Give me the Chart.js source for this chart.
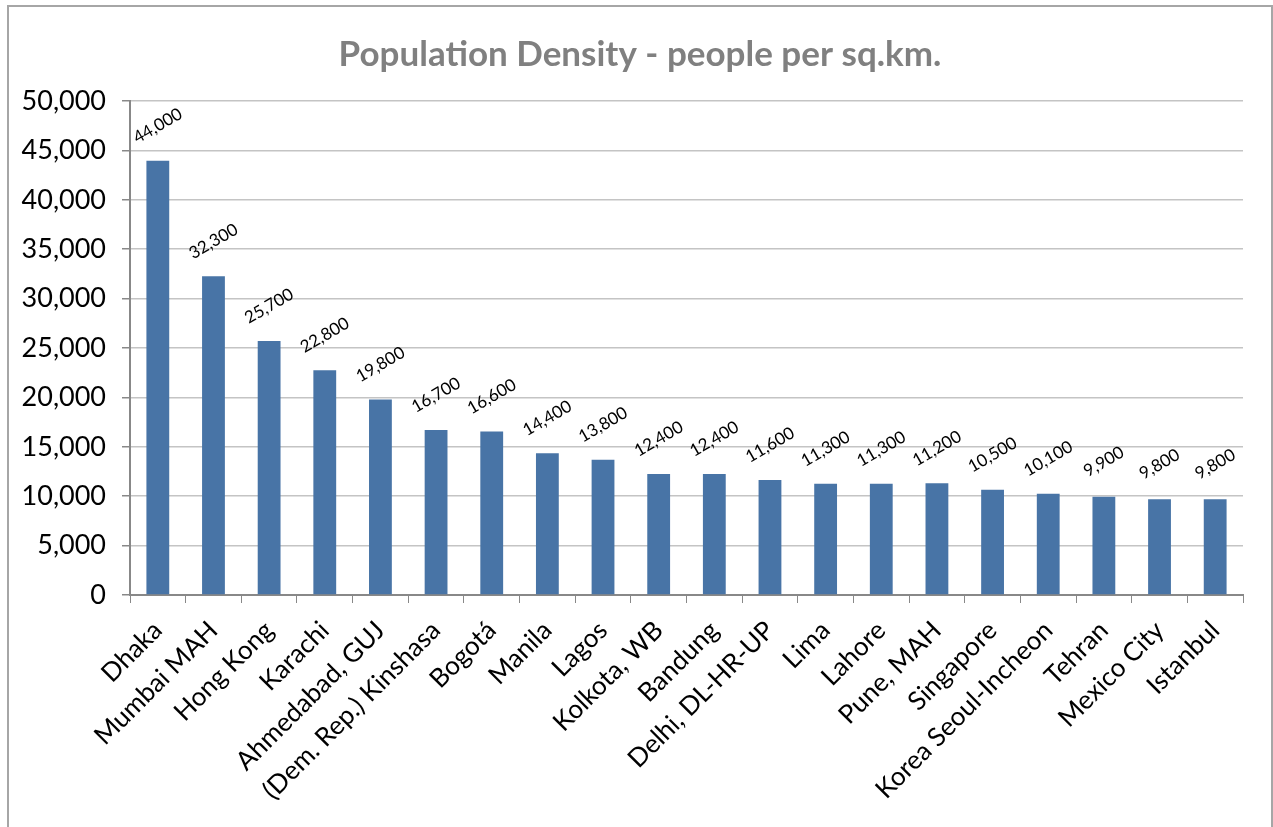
<!DOCTYPE html>
<html>
<head>
<meta charset="utf-8">
<script src="https://cdn.jsdelivr.net/npm/chart.js@4"></script>
<style>
  body { margin: 0; background: #fff; overflow: hidden; }
  #frame { position: absolute; left: 7px; top: 5px; width: 1262px; height: 900px; border: 2px solid #a6a6a6; }
  #chart { position: absolute; left: 0; top: 0; }
</style>
</head>
<body>
<div id="frame"></div>
<canvas id="chart" width="1273" height="827"></canvas>
<script>
// cities, sorted by density
var cities = [
  "Dhaka", "Mumbai MAH", "Hong Kong", "Karachi", "Ahmedabad, GUJ",
  "(Dem. Rep.) Kinshasa", "Bogotá", "Manila", "Lagos", "Kolkota, WB",
  "Bandung", "Delhi, DL-HR-UP", "Lima", "Lahore", "Pune, MAH",
  "Singapore", "Korea Seoul-Incheon", "Tehran", "Mexico City", "Istanbul"
];
// bar heights
var density = [
  43950, 32250, 25700, 22750, 19800,
  16700, 16550, 14350, 13700, 12250,
  12250, 11650, 11250, 11250, 11300,
  10650, 10250, 9950, 9700, 9700
];
// the rounded labels printed over the bars
var densityLabels = [
  "44,000", "32,300", "25,700", "22,800", "19,800",
  "16,700", "16,600", "14,400", "13,800", "12,400",
  "12,400", "11,600", "11,300", "11,300", "11,200",
  "10,500", "10,100", "9,900", "9,800", "9,800"
];
var chartTitle = "Population Density - people per sq.km.";
var yMin = 0, yMax = 50000, yStep = 5000;

var barLabels = {
  id: "barLabels",
  afterDatasetsDraw: function(chart) {
    var ctx = chart.ctx;
    var meta = chart.getDatasetMeta(0);
    ctx.save();
    ctx.font = "17px Lato";
    ctx.fillStyle = "#000";
    ctx.textAlign = "center";
    ctx.textBaseline = "middle";
    meta.data.forEach(function(bar, i) {
      ctx.save();
      ctx.translate(bar.x, bar.y - 35);
      ctx.rotate(-Math.PI / 6);
      ctx.fillText(densityLabels[i], 0, 0);
      ctx.restore();
    });
    ctx.restore();
  }
};

// title is centred on the whole frame, not on the plot box
var titlePlugin = {
  id: "frameTitle",
  afterDraw: function(chart) {
    var ctx = chart.ctx;
    ctx.save();
    ctx.font = "bold 35px Lato";
    ctx.fillStyle = "#808080";
    ctx.textAlign = "center";
    ctx.textBaseline = "middle";
    ctx.fillText(chartTitle, 640, 55);
    ctx.restore();
  }
};

var draw = function() {
  Chart.defaults.font.family = "Lato";
  Chart.defaults.color = "#000";
  var ctx = document.getElementById("chart").getContext("2d");
  var myChart = new Chart(ctx, {
    type: "bar",
    data: {
      labels: cities,
      datasets: [
        {
          label: "Population Density",
          data: density,
          backgroundColor: "#4874a6",
          barPercentage: 0.41,
          categoryPercentage: 1
        }
      ]
    },
    options: {
      responsive: false,
      animation: false,
      devicePixelRatio: 1,
      layout: { padding: { left: 0, right: 30, top: 101, bottom: 0 } },
      plugins: {
        legend: { display: false },
        tooltip: { enabled: false },
        title: { display: false }
      },
      scales: {
        x: {
          afterFit: function(scale) { scale.height = 232; },
          grid: {
            offset: true,
            drawOnChartArea: false,
            tickLength: 8,
            tickColor: "#888"
          },
          border: { color: "#888", width: 2 },
          ticks: {
            autoSkip: false,
            maxRotation: 45,
            minRotation: 45,
            padding: 12,
            font: { size: 26 }
          }
        },
        y: {
          min: yMin,
          max: yMax,
          afterFit: function(scale) { scale.width = 130; },
          grid: { color: "#c4c4c4", lineWidth: 1.5, tickLength: 8, tickColor: "#888" },
          border: { color: "#888", width: 2 },
          ticks: {
            stepSize: yStep,
            padding: 16,
            font: { size: 27 },
            callback: function(v) { return v.toLocaleString("en-US"); }
          }
        }
      }
    },
    plugins: [barLabels, titlePlugin]
  });
};

Promise.all([
  document.fonts.load("17px Lato"),
  document.fonts.load("bold 35px Lato")
]).then(draw, draw);
</script>
</body>
</html>
